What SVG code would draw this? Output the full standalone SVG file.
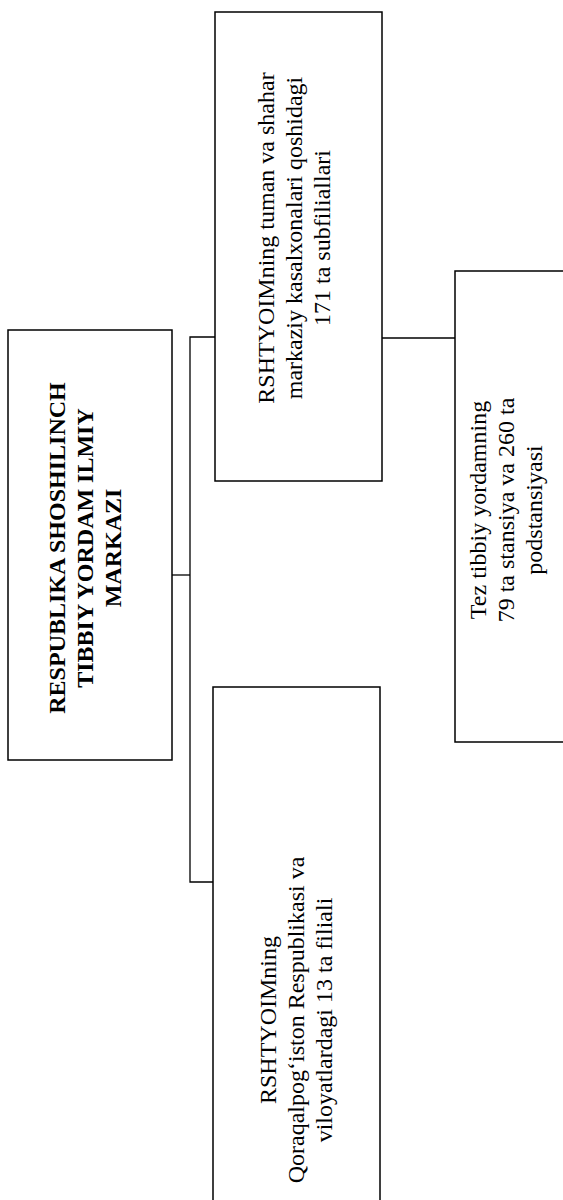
<svg xmlns="http://www.w3.org/2000/svg" width="563" height="1200" viewBox="0 0 563 1200">
<style>
.box{fill:#fff;stroke:#000;stroke-width:1.5}
.ln{fill:none;stroke:#000;stroke-width:1.3}
.t{font-family:"Liberation Serif","Times New Roman",serif;font-size:24px;fill:#000;text-anchor:middle}
.b{font-weight:bold}
</style>
<rect width="563" height="1200" fill="#fff"/>
<g id="connectors">
<polyline class="ln" points="172,575 190,575"/>
<polyline class="ln" points="215,337 190,337 190,882 213,882"/>
<polyline class="ln" points="382,338 455,338"/>
</g>
<g id="main">
<rect class="box" x="8" y="330" width="164" height="430"/>
<text class="t b" transform="translate(85,548) rotate(-90)"><tspan x="0" y="-20">RESPUBLIKA SHOSHILINCH</tspan><tspan x="0" y="8">TIBBIY YORDAM ILMIY</tspan><tspan x="0" y="36">MARKAZI</tspan></text>
</g>
<g id="subfilial">
<rect class="box" x="215" y="12" width="167" height="469"/>
<text class="t" transform="translate(294,238) rotate(-90)"><tspan x="0" y="-20">RSHTYOIMning tuman va shahar</tspan><tspan x="0" y="8">markaziy kasalxonalari qoshidagi</tspan><tspan x="0" y="36">171 ta subfiliallari</tspan></text>
</g>
<g id="filial">
<rect class="box" x="213" y="687" width="167" height="530"/>
<text class="t" transform="translate(296,1020) rotate(-90)"><tspan x="0" y="-20">RSHTYOIMning</tspan><tspan x="0" y="8">Qoraqalpog‘iston Respublikasi va</tspan><tspan x="0" y="36">viloyatlardagi 13 ta filiali</tspan></text>
</g>
<g id="tezyordam">
<rect class="box" x="455" y="271" width="130" height="471"/>
<text class="t" transform="translate(506,510) rotate(-90)"><tspan x="0" y="-20">Tez tibbiy yordamning</tspan><tspan x="0" y="8">79 ta stansiya va 260 ta</tspan><tspan x="0" y="36">podstansiyasi</tspan></text>
</g>
</svg>
